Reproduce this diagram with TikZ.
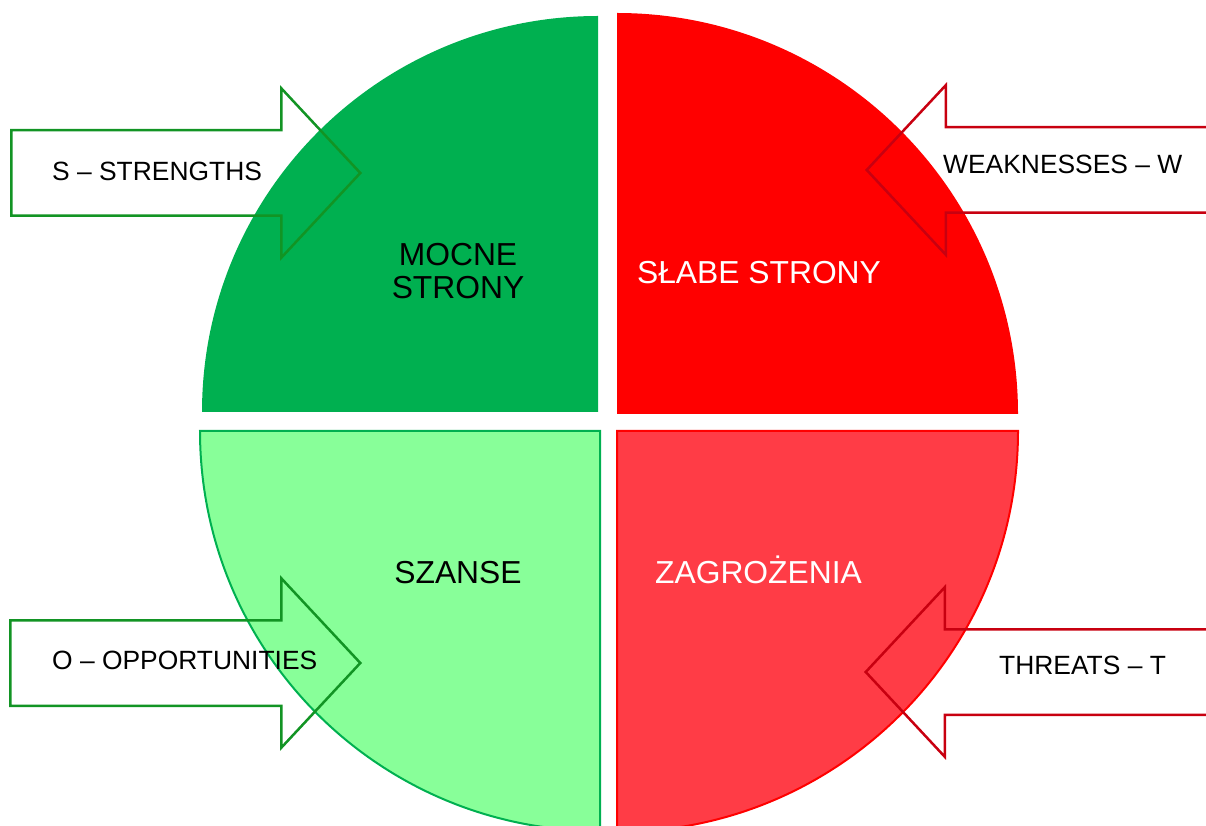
\documentclass[tikz,border=0pt]{standalone}
\usepackage{fontspec}
\setmainfont{Liberation Sans}
\usetikzlibrary{shapes.arrows}
\definecolor{mocne}{HTML}{00B050}
\definecolor{slabe}{HTML}{FF0000}
\definecolor{szanse}{HTML}{88FF99}
\definecolor{zagr}{HTML}{FF3C46}
\definecolor{greenline}{HTML}{129424}
\definecolor{redline}{HTML}{C80010}
\tikzstyle{quarter}=[line width=2pt]
\tikzstyle{pointer}=[single arrow, draw, line width=2.5pt, inner xsep=0pt, inner ysep=41.5pt, single arrow head extend=42pt, single arrow tip angle=94, anchor=tip]
\tikzstyle{swot}=[inner sep=0pt, font=\fontsize{26.4}{30}\selectfont]
\tikzstyle{bigtext}=[inner sep=0pt, align=center, font=\fontsize{31.8}{33}\selectfont]

\begin{document}
\begin{tikzpicture}[x=1pt,y=1pt]
\useasboundingbox (0,0) rectangle (1206,825);
\clip (0,0) rectangle (1206,825);
% four quarters
\fill[mocne] (598,413) -- (202,413) arc[start angle=180, end angle=90, radius=396] -- cycle;
\fill[slabe] (617,411) -- (617,812) arc[start angle=90, end angle=0, radius=401] -- cycle;
\filldraw[quarter, fill=szanse, draw=mocne] (600,394) -- (200,394) arc[start angle=180, end angle=270, radius=400] -- cycle;
\filldraw[quarter, fill=zagr, draw=slabe] (617,394) -- (1018,394) arc[start angle=0, end angle=-90, radius=401] -- cycle;
% arrows
\node[pointer, draw=greenline, minimum height=349pt] (s) at (362,652) {};
\node[pointer, draw=greenline, minimum height=350pt] (o) at (362,162) {};
\node[pointer, draw=redline, minimum height=395pt, shape border rotate=180] (w) at (865,655) {};
\node[pointer, draw=redline, minimum height=396pt, shape border rotate=180] (t) at (864,153) {};
% texts
\node[swot, anchor=west] (st) at (52,653.5) {S -- STRENGTHS};
\node[swot, anchor=west] (ot) at (52,165) {O -- OPPORTUNITIES};
\node[swot, anchor=west] (wt) at (943,660.5) {WEAKNESSES -- W};
\node[swot, anchor=west] (tt) at (999,159.5) {THREATS -- T};
\node[bigtext] (mocnet) at (458,554) {MOCNE\\STRONY};
\node[bigtext, text=white, anchor=base] (slabet) at (759,541.5) {SŁABE STRONY};
\node[bigtext, anchor=base] (szanset) at (458,241.5) {SZANSE};
\node[bigtext, text=white, anchor=base] (zagrt) at (758.5,241.5) {ZAGROŻENIA};
\end{tikzpicture}
\end{document}
